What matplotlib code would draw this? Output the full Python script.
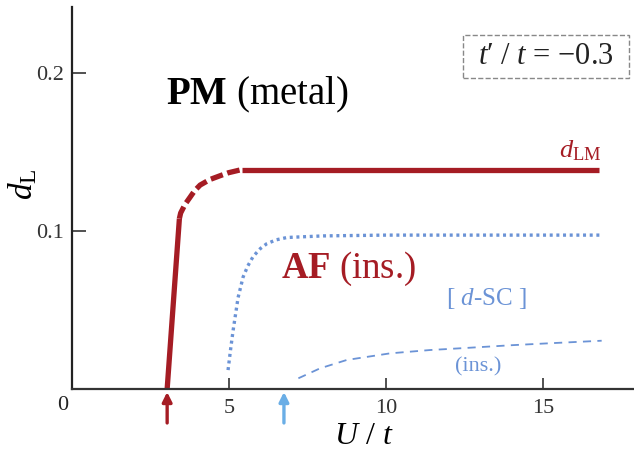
import matplotlib
matplotlib.use("Agg")
import matplotlib.pyplot as plt
from matplotlib.patches import Rectangle

plt.rcParams['font.family'] = ['Liberation Serif', 'DejaVu Serif']
plt.rcParams['mathtext.fontset'] = 'custom'
plt.rcParams['mathtext.rm'] = 'Liberation Serif'
plt.rcParams['mathtext.it'] = 'Liberation Serif:italic'
plt.rcParams['mathtext.bf'] = 'Liberation Serif:bold'

# d_LM curve (solid rise, dashed bend, solid plateau)
u_rise = [3.03, 3.42]
d_rise = [0.0, 0.108]
u_bend = [3.42, 3.46, 3.6, 3.76, 3.9, 4.08, 4.39, 4.7, 4.98, 5.4]
d_bend = [0.108, 0.1115, 0.117, 0.1215, 0.1255, 0.1292, 0.1327, 0.135, 0.137, 0.139]
u_flat = [5.4, 16.8]
d_flat = [0.139, 0.139]

# d-SC (dotted) curve
u_sc = [4.97, 5.05, 5.13, 5.29, 5.45, 5.6, 5.77, 6.0, 6.2, 6.5, 6.85, 8.0, 10.0, 13.0, 16.8]
d_sc = [0.012, 0.025, 0.037, 0.058, 0.071, 0.078, 0.084, 0.089, 0.092, 0.0945, 0.096,
        0.097, 0.0975, 0.0975, 0.0975]

# d-SC (ins.) dashed curve
u_ins = [7.21, 7.9, 8.75, 10.13, 11.4, 12.45, 14.04, 15.12, 16.87]
d_ins = [0.0068, 0.0131, 0.0184, 0.0226, 0.0247, 0.0259, 0.0278, 0.0289, 0.0306]

# arrows marking critical U
u_arrow_red = 3.03
u_arrow_blue = 6.75

red = '#a51c24'
blue = '#6b93d6'
light_blue = '#6aaee6'

fig = plt.figure(figsize=(6.34, 4.55), dpi=100)
ax = fig.add_axes([0.1136, 0.145, 0.8864, 0.8396])

ax.plot(u_rise, d_rise, color=red, lw=3.8, solid_capstyle='butt')
ax.plot(u_bend, d_bend, color=red, lw=3.8, linestyle=(0, (2.4, 0.9)), dash_capstyle='butt')
ax.plot(u_flat, d_flat, color=red, lw=3.8, solid_capstyle='butt')

ax.plot(u_sc, d_sc, color=blue, lw=2.4, linestyle=(0, (0.9, 1.1)), dash_capstyle='butt')
ax.plot(u_ins, d_ins, color=blue, lw=1.3, linestyle=(0, (4.5, 3.5)))

ax.set_xlim(0, 17.9)
ax.set_ylim(0, 0.242)

ax.spines['top'].set_visible(False)
ax.spines['right'].set_visible(False)
ax.spines['left'].set_linewidth(1.6)
ax.spines['bottom'].set_linewidth(1.6)
ax.spines['left'].set_color('#222222')
ax.spines['bottom'].set_color('#333333')

ax.set_xticks([5, 10, 15])
ax.set_xticklabels(['5', '10', '15'])
ax.set_yticks([0.1, 0.2])
ax.set_yticklabels(['0.1', '0.2'])
ax.tick_params(axis='both', direction='in', labelsize=16, colors='#333333')
ax.tick_params(axis='x', length=8, width=1.2, pad=7)
ax.tick_params(axis='y', length=10, width=1.2, pad=6)
ax.text(-0.3, -0.0105, '0', fontsize=16, ha='center', va='center', color='#222222')

ax.set_xlabel('$U$ / $t$', fontsize=23, va='center')
ax.set_ylabel('$d_{\\mathrm{L}}$', fontsize=24, va='center')
ax.xaxis.set_label_coords(0.52, -0.124)
ax.yaxis.set_label_coords(-0.087, 0.537)

ax.text(3.0, 0.186, '$\\mathbf{PM}$ (metal)', fontsize=28, color='black', va='center')
ax.text(6.65, 0.076, '$\\mathbf{AF}$ (ins.)', fontsize=26.5, color=red, va='center')
ax.text(13.2, 0.0576, '[ $d$-SC ]', fontsize=18, color=blue, va='center', ha='center')
ax.text(12.93, 0.014, '(ins.)', fontsize=16, color=blue, va='center', ha='center')
ax.text(15.5, 0.151, '$d_{\\mathrm{LM}}$', fontsize=19, color=red, va='center')

# parameter box
ax.add_patch(Rectangle((0.696, 0.814), 0.295, 0.113, transform=ax.transAxes,
                       fc='white', ec='#888888', ls='--', lw=1, clip_on=False))
ax.text(15.1, 0.2104, "$t$\u2032 / $t$ = \u22120.3", fontsize=22, color='#222222',
        ha='center', va='center')

ax.annotate('', xy=(u_arrow_red, -0.0019), xytext=(u_arrow_red, -0.0215),
            xycoords='data', annotation_clip=False,
            arrowprops=dict(arrowstyle='-|>', color=red, lw=2.4, mutation_scale=14,
                            shrinkA=0, shrinkB=0))
ax.annotate('', xy=(u_arrow_blue, -0.0019), xytext=(u_arrow_blue, -0.0215),
            xycoords='data', annotation_clip=False,
            arrowprops=dict(arrowstyle='-|>', color=light_blue, lw=2.4, mutation_scale=14,
                            shrinkA=0, shrinkB=0))

fig.savefig('out.png', dpi=100)
